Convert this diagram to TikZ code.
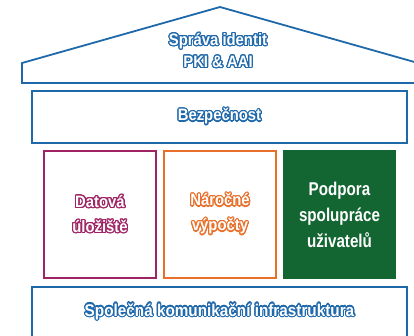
\documentclass[tikz,border=0pt]{standalone}
\usepackage{fontspec}
\usepackage{xcolor}
\usepackage{contour}
\usepackage{tikz}
\usetikzlibrary{positioning}

\setmainfont{Liberation Sans}
\newfontfamily\outfont{Liberation Sans}[FakeStretch=0.9]
\newfontfamily\narrowfont{Liberation Sans}[FakeStretch=0.82]

\definecolor{roofblue}{RGB}{31,104,170}
\definecolor{dataplum}{RGB}{158,36,100}
\definecolor{compute}{RGB}{232,112,42}
\definecolor{collabgreen}{RGB}{19,102,50}

\contourlength{1.1pt}
\contournumber{24}
\newcommand{\outl}[2]{\contour{#1}{#2}}

\begin{document}
\begin{tikzpicture}[
    x=1pt, y=-1pt,
    layer/.style={rectangle, draw=roofblue, line width=1.8pt, minimum width=375pt, align=center},
    pillar/.style={rectangle, line width=1.8pt, minimum width=112pt, minimum height=127pt, align=center},
    outtext/.style={text=white, align=center, font=\outfont\bfseries\fontsize{16.5}{22}\selectfont}
]
\useasboundingbox (0,0) rectangle (414,335);

% roof
\draw[roofblue, line width=1.8pt] (22,83) -- (22,63) -- (220,7) -- (418,63) -- (418,83) -- cycle;
\node[outtext] (roof) at (218,51) {\outl{roofblue}{Správa identit}\\\outl{roofblue}{PKI \& AAI}};

% security layer
\node[layer, minimum height=52pt] (security) at (219.5,117) {};
\node[outtext] (securitytext) at (security.center) {\outl{roofblue}{Bezpečnost}};

% pillars
\node[pillar, draw=dataplum] (storage) at (100,214.5) {};
\node[outtext, font=\outfont\bfseries\fontsize{16.5}{25}\selectfont] (storagetext) at (storage.center) {\outl{dataplum}{Datová}\\\outl{dataplum}{úložiště}};

\node[pillar, draw=compute] (computing) at (220,214.5) {};
\node[outtext, font=\outfont\bfseries\fontsize{16.5}{25}\selectfont] (computingtext) at (computing.center) {\outl{compute}{Náročné}\\\outl{compute}{výpočty}};

\node[pillar, draw=collabgreen, fill=collabgreen, text=white, font=\narrowfont\bfseries\fontsize{18.5}{26}\selectfont] (collab) at (339.5,214.5) {Podpora\\spolupráce\\uživatelů};

% infrastructure layer
\node[layer, minimum height=50pt] (infra) at (219.5,312) {};
\node[outtext, font=\outfont\bfseries\fontsize{17}{22}\selectfont] (infratext) at (infra.center) {\outl{roofblue}{Společná komunikační infrastruktura}};

\end{tikzpicture}
\end{document}
